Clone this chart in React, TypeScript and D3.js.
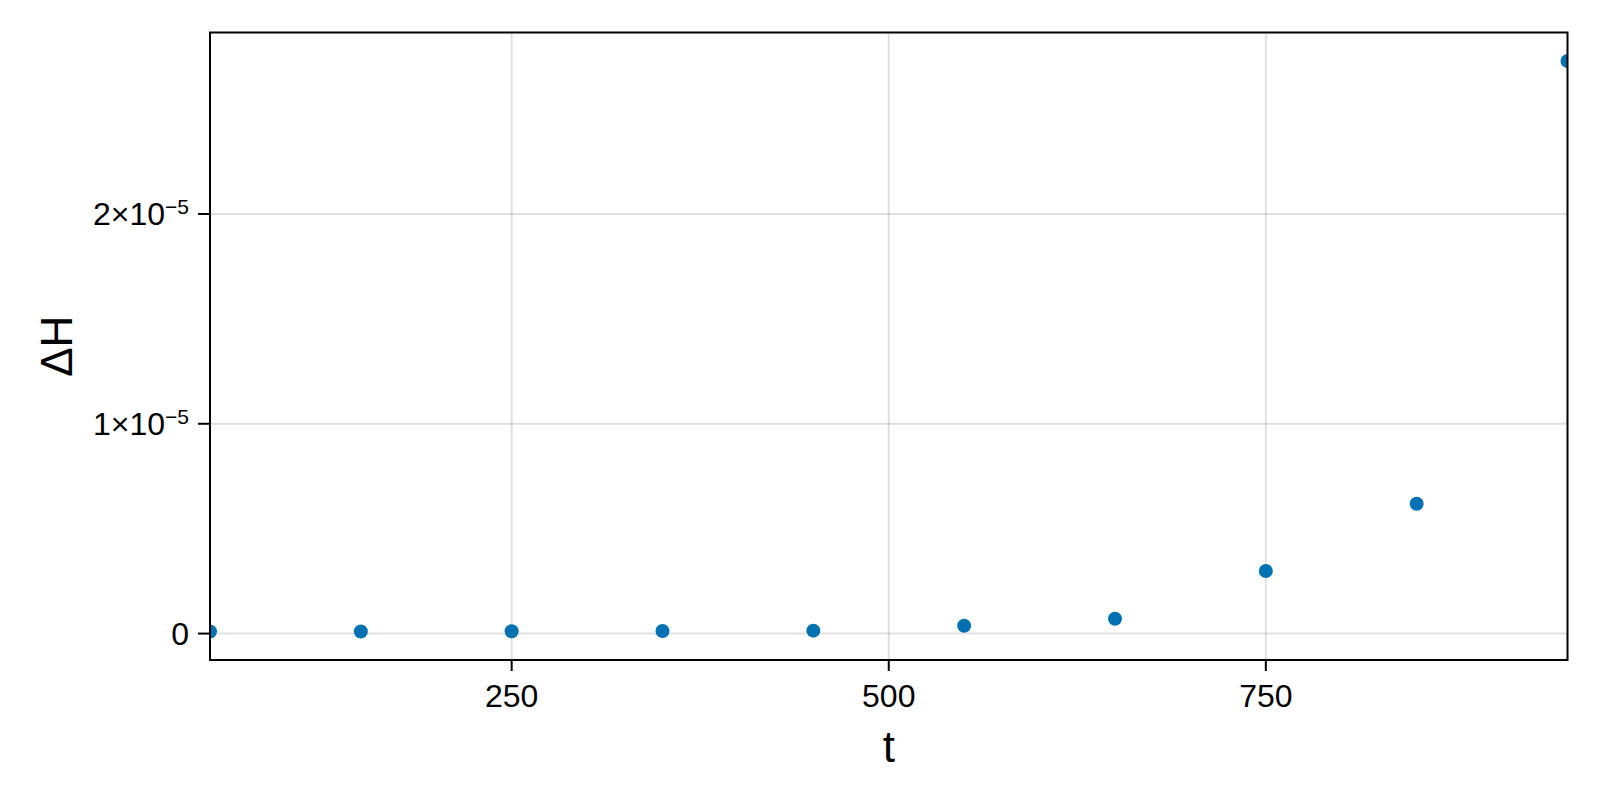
import React, { useEffect, useRef } from "react";
import * as d3 from "d3";

// ΔH sampled every 100 time units
const times = [50, 150, 250, 350, 450, 550, 650, 750, 850, 950];
const deltaH = [1.0e-7, 1.0e-7, 1.1e-7, 1.2e-7, 1.4e-7, 3.7e-7, 7.1e-7, 2.98e-6, 6.19e-6, 2.729e-5];
const xTicks = [250, 500, 750];
const yTicks = [0, 1e-5, 2e-5];

const WIDTH = 1600;
const HEIGHT = 800;
const FONT = "'Liberation Sans', Arial, Helvetica, sans-serif";

const App = () => {
    const svgRef = useRef(null);

    useEffect(() => {
        const svg = d3.select(svgRef.current);
        svg.selectAll("*").remove();

        const left = 210;
        const right = 1567.5;
        const top = 32.5;
        const bottom = 660;

        // Makie-like limits: data extent with 5% padding each side
        const [xMin, xMax] = d3.extent(times) as [number, number];
        const [yMin, yMax] = d3.extent(deltaH) as [number, number];
        const yPad = (yMax - yMin) * 0.05;

        const x = d3.scaleLinear().domain([xMin, xMax]).range([left, right]);
        const y = d3
            .scaleLinear()
            .domain([yMin - yPad, yMax + yPad])
            .range([bottom, top]);

        svg.append("rect")
            .attr("width", WIDTH)
            .attr("height", HEIGHT)
            .attr("fill", "#fff");

        // grid
        const grid = svg.append("g").attr("stroke", "rgba(0,0,0,0.12)").attr("stroke-width", 2);
        grid.selectAll(".vx")
            .data(xTicks)
            .enter()
            .append("line")
            .attr("x1", (d) => x(d))
            .attr("x2", (d) => x(d))
            .attr("y1", top)
            .attr("y2", bottom);
        grid.selectAll(".hy")
            .data(yTicks)
            .enter()
            .append("line")
            .attr("x1", left)
            .attr("x2", right)
            .attr("y1", (d) => y(d))
            .attr("y2", (d) => y(d));

        // points, clipped to the axis box
        svg.append("clipPath")
            .attr("id", "plot-clip")
            .append("rect")
            .attr("x", left)
            .attr("y", top)
            .attr("width", right - left)
            .attr("height", bottom - top);

        svg.append("g")
            .attr("clip-path", "url(#plot-clip)")
            .selectAll("circle")
            .data(times)
            .enter()
            .append("circle")
            .attr("cx", (d) => x(d))
            .attr("cy", (_d, i) => y(deltaH[i]))
            .attr("r", 7)
            .attr("fill", "#0072B2");

        // frame
        svg.append("rect")
            .attr("x", left)
            .attr("y", top)
            .attr("width", right - left)
            .attr("height", bottom - top)
            .attr("fill", "none")
            .attr("stroke", "#000")
            .attr("stroke-width", 2);

        // x ticks
        const xt = svg.append("g");
        xt.selectAll("line")
            .data(xTicks)
            .enter()
            .append("line")
            .attr("x1", (d) => x(d))
            .attr("x2", (d) => x(d))
            .attr("y1", bottom)
            .attr("y2", bottom + 11)
            .attr("stroke", "#000")
            .attr("stroke-width", 2);
        xt.selectAll("text")
            .data(xTicks)
            .enter()
            .append("text")
            .attr("x", (d) => x(d))
            .attr("y", 707)
            .attr("text-anchor", "middle")
            .attr("font-family", FONT)
            .attr("font-size", 32)
            .attr("fill", "#000")
            .text((d) => String(d));

        // y ticks
        const yt = svg.append("g");
        yt.selectAll("line")
            .data(yTicks)
            .enter()
            .append("line")
            .attr("x1", left - 12)
            .attr("x2", left)
            .attr("y1", (d) => y(d))
            .attr("y2", (d) => y(d))
            .attr("stroke", "#000")
            .attr("stroke-width", 2);
        const labels = yt
            .selectAll("text")
            .data(yTicks)
            .enter()
            .append("text")
            .attr("x", 189)
            .attr("y", (d) => y(d) + 11)
            .attr("text-anchor", "end")
            .attr("font-family", FONT)
            .attr("font-size", 32)
            .attr("fill", "#000");
        labels.each(function (d) {
            const t = d3.select(this);
            if (d === 0) {
                t.text("0");
                return;
            }
            const mant = Math.round(d / 1e-5);
            t.append("tspan").text(`${mant}×10`);
            t.append("tspan")
                .attr("font-size", 21)
                .attr("dy", -11)
                .text("−5");
        });

        // axis labels
        svg.append("text")
            .attr("x", (left + right) / 2)
            .attr("y", 762)
            .attr("text-anchor", "middle")
            .attr("font-family", FONT)
            .attr("font-size", 44)
            .attr("fill", "#000")
            .text("t");

        svg.append("text")
            .attr("transform", `translate(72, ${(top + bottom) / 2}) rotate(-90)`)
            .attr("text-anchor", "middle")
            .attr("font-family", FONT)
            .attr("font-size", 44)
            .attr("fill", "#000")
            .text("ΔH");
    }, []);

    return (
        <div style={{ position: "absolute", left: 0, top: 0, width: WIDTH, height: HEIGHT }}>
            <svg ref={svgRef} width={WIDTH} height={HEIGHT} style={{ display: "block" }}></svg>
        </div>
    );
};

export default App;
